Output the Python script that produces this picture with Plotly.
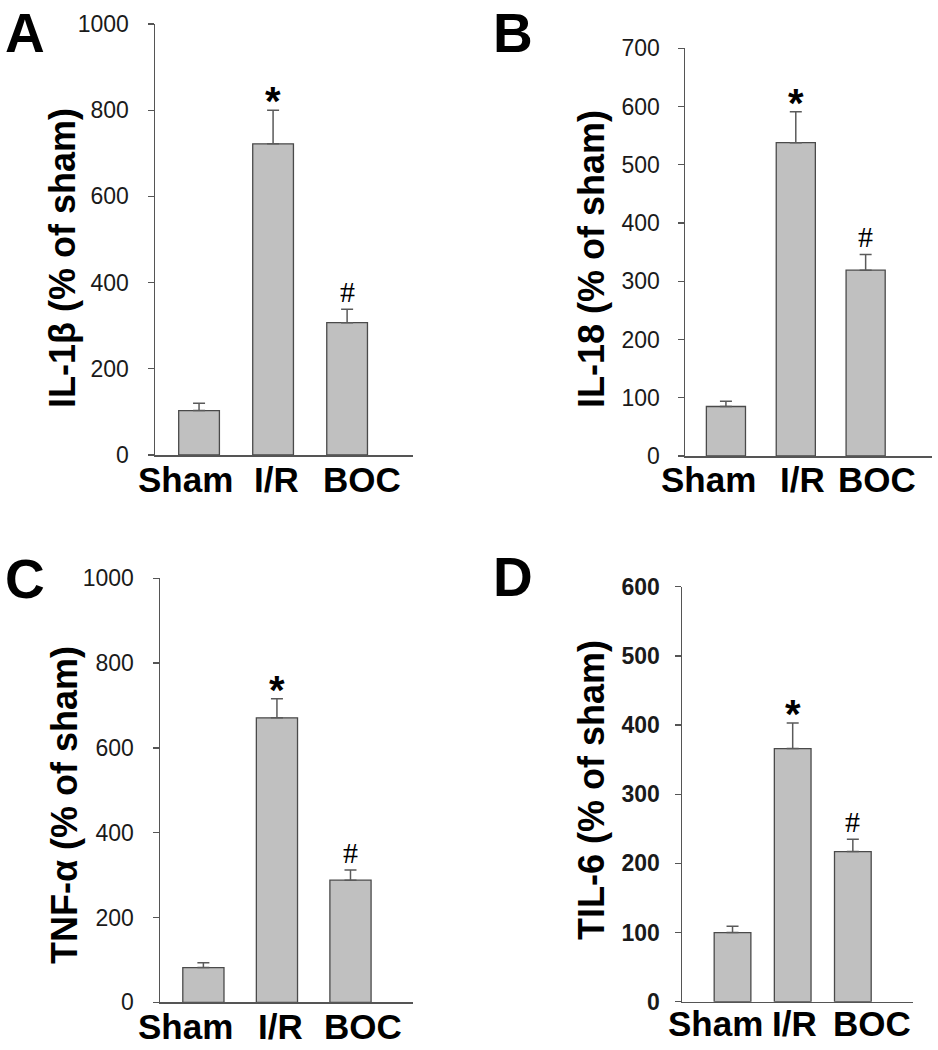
import plotly.graph_objects as go

W, H = 938, 1050

groups = ["Sham", "I/R", "BOC"]

il1b_mean = [103, 722, 307]
il1b_err = [17, 78, 31]
il18_mean = [85, 538, 319]
il18_err = [9, 53, 27]
tnfa_mean = [82, 671, 288]
tnfa_err = [11, 45, 24]
il6_mean = [100, 366, 217]
il6_err = [9, 37, 18]

panel_letters = ["A", "B", "C", "D"]
y_titles = ["IL-1β (% of sham)", "IL-18 (% of sham)", "TNF-α (% of sham)", "TIL-6 (% of sham)"]
y_max = [1000, 700, 1000, 600]
y_dtick = [200, 100, 200, 100]
marks = ["", "*", "#"]

means = [il1b_mean, il18_mean, tnfa_mean, il6_mean]
errs = [il1b_err, il18_err, tnfa_err, il6_err]

# layout (pixel boxes: left, right, top, zero line)
boxes = [
    (155, 413, 24, 455),
    (685, 932, 48.3, 456),
    (160, 413, 578.3, 1002.3),
    (682, 913, 586.7, 1001.7),
]
xranges = [(-0.595, 2.89), (-0.586, 2.95), (-0.59, 2.85), (-0.84, 3.0)]
bar_w = [0.55, 0.56, 0.56, 0.61]
label_xshift = [(-14, 3.5, 15), (-17, 6.5, 11.5), (-17.5, 3.5, 12.5), (-17.5, 2, 19)]
label_yshift = [-24, -23, -24, -22]
letter_pos = [(25, 0), (513, 0), (25, 546), (513, 544)]
title_pos = [(62, 258), (591, 259), (64, 805), (591, 790)]
tick_bold = [False, False, False, True]
tick_standoff = [14, 13, 14, 10]

FONT = "Liberation Sans, Arial, sans-serif"
SERIF = "Liberation Serif, Times New Roman, serif"

fig = go.Figure()
annotations = []

for i in range(4):
    sfx = "" if i == 0 else str(i + 1)
    xa, ya = "x" + sfx, "y" + sfx
    L, R, T, B = boxes[i]
    fig.add_trace(go.Bar(
        x=groups, y=means[i], xaxis=xa, yaxis=ya, width=bar_w[i],
        marker=dict(color="#c0c0c0", line=dict(color="#4a4a4a", width=1.3)),
        error_y=dict(type="data", array=errs[i], arrayminus=[0] * 3, symmetric=False,
                     color="#5a5a5a", thickness=1.5, width=6),
        showlegend=False, hoverinfo="skip",
    ))
    tickfont = dict(family=FONT, size=23, color="#1a1a1a")
    if tick_bold[i]:
        tickfont["weight"] = "bold"
    fig.layout["xaxis" + sfx] = dict(
        domain=[L / W, R / W], anchor=ya, type="category", automargin=False,
        range=list(xranges[i]), showticklabels=False, ticks="",
        showline=True, linecolor="#555555", linewidth=1.5, showgrid=False, zeroline=False,
    )
    fig.layout["yaxis" + sfx] = dict(
        domain=[1 - B / H, 1 - T / H], anchor=xa, range=[0, y_max[i]], automargin=False,
        dtick=y_dtick[i], tick0=0, ticks="outside", ticklen=6, tickwidth=1.3,
        tickcolor="#555555", showline=True, linecolor="#555555", linewidth=1.5,
        showgrid=False, zeroline=False, tickfont=tickfont,
        ticklabelstandoff=tick_standoff[i],
    )
    # x category labels
    for j, g in enumerate(groups):
        annotations.append(dict(
            x=g, y=0, xref=xa, yref=ya, text=f"<b>{g}</b>", showarrow=False,
            xanchor="center", yanchor="middle",
            xshift=label_xshift[i][j], yshift=label_yshift[i],
            font=dict(family=FONT, size=35, color="black"),
        ))
        # significance marks
        if marks[j]:
            if marks[j] == "*":
                f = dict(family=FONT, size=40, color="black")
                txt = "<b>*</b>"
                ys = 9
            else:
                f = dict(family=SERIF, size=30, color="black")
                txt = "#"
                ys = 18
            annotations.append(dict(
                x=g, y=means[i][j] + errs[i][j], xref=xa, yref=ya, text=txt,
                showarrow=False, xanchor="center", yanchor="middle", yshift=ys, font=f,
            ))
    # y title
    tx, ty = title_pos[i]
    annotations.append(dict(
        x=tx / W, y=1 - ty / H, xref="paper", yref="paper", text=f"<b>{y_titles[i]}</b>",
        textangle=-90, showarrow=False, xanchor="center", yanchor="middle",
        font=dict(family=FONT, size=36, color="black"),
    ))
    # panel letter
    lx, ly = letter_pos[i]
    annotations.append(dict(
        x=lx / W, y=1 - ly / H, xref="paper", yref="paper", text=f"<b>{panel_letters[i]}</b>",
        showarrow=False, xanchor="center", yanchor="top",
        font=dict(family=FONT, size=55, color="black"),
    ))

fig.update_layout(
    width=W, height=H, margin=dict(l=0, r=0, t=0, b=0, autoexpand=False),
    paper_bgcolor="white", plot_bgcolor="white",
    annotations=annotations, bargap=0,
)

fig.write_html(
    "out.html",
    config={"displayModeBar": False, "staticPlot": True},
    post_script="document.body.style.margin='0';document.body.style.padding='0';",
)
